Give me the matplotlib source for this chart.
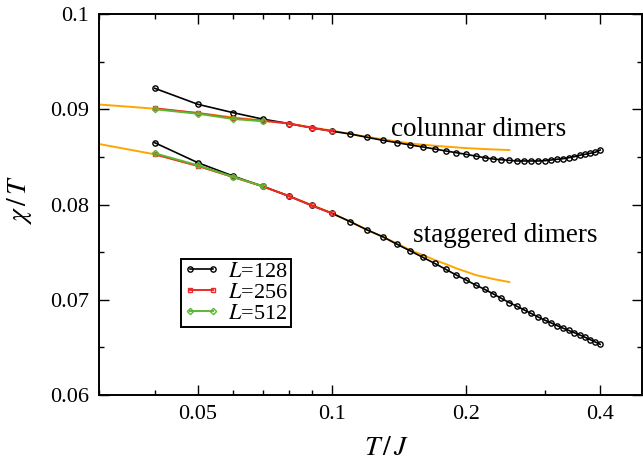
import matplotlib
matplotlib.use("Agg")
import matplotlib.pyplot as plt
from matplotlib.ticker import FixedLocator, NullFormatter, MultipleLocator

plt.rcParams['font.family'] = ['Liberation Serif', 'DejaVu Serif']
plt.rcParams['mathtext.fontset'] = 'stix'

# ---- data ----
T128 = [0.04, 0.05, 0.06, 0.07, 0.08, 0.09, 0.10, 0.11, 0.12, 0.13, 0.14, 0.15,
        0.16, 0.17, 0.18, 0.19, 0.20, 0.21, 0.22, 0.23, 0.24, 0.25, 0.26, 0.27,
        0.28, 0.29, 0.30, 0.31, 0.32, 0.33, 0.34, 0.35, 0.36, 0.37, 0.38, 0.39, 0.40]
col128 = [0.0922, 0.09052, 0.08964, 0.08896, 0.08850, 0.08805, 0.08770, 0.08740,
          0.08705, 0.08674, 0.08649, 0.08625, 0.08604, 0.08583, 0.08562, 0.08544,
          0.08527, 0.08509, 0.08491, 0.08478, 0.08470, 0.08464, 0.08457, 0.08457,
          0.08457, 0.08457, 0.08460, 0.08467, 0.08475, 0.08481, 0.08491, 0.08502,
          0.08517, 0.08527, 0.08538, 0.08548, 0.08572]
stg128 = [0.08649, 0.08439, 0.08299, 0.08190, 0.08089, 0.07990, 0.07907, 0.07819,
          0.07732, 0.07662, 0.07582, 0.07512, 0.07445, 0.07382, 0.07320, 0.07260,
          0.07207, 0.07155, 0.07110, 0.07062, 0.07015, 0.06970, 0.06932, 0.06893,
          0.06856, 0.06820, 0.06787, 0.06758, 0.06729, 0.06702, 0.06678, 0.06654,
          0.06630, 0.06606, 0.06581, 0.06556, 0.06532]

T256 = [0.04, 0.05, 0.06, 0.07, 0.08, 0.09, 0.10]
col256 = [0.0901, 0.0896, 0.08905, 0.08880, 0.08850, 0.08805, 0.08770]
stg256 = [0.08527, 0.08405, 0.08288, 0.08190, 0.08089, 0.07990, 0.07907]

T512 = [0.04, 0.05, 0.06, 0.07]
col512 = [0.0900, 0.08953, 0.08898, 0.08874]
stg512 = [0.08538, 0.08412, 0.08290, 0.08192]

Tcol_fit = [0.03, 0.04, 0.05, 0.06, 0.07, 0.08, 0.10, 0.12, 0.15, 0.173, 0.20, 0.225, 0.25]
col_fit = [0.0905, 0.09006, 0.0896, 0.08915, 0.0888, 0.0885, 0.08775, 0.0871,
           0.0864, 0.08614, 0.08592, 0.0858, 0.08572]
Tstg_fit = [0.03, 0.04, 0.05, 0.06, 0.07, 0.08, 0.10, 0.12, 0.14, 0.15, 0.16, 0.17,
            0.18, 0.19, 0.20, 0.21, 0.23, 0.25]
stg_fit = [0.08635, 0.08527, 0.08405, 0.0829, 0.0819, 0.0809, 0.0791, 0.07735,
           0.0759, 0.0752, 0.0747, 0.07417, 0.07375, 0.0733, 0.07295, 0.0726,
           0.07218, 0.07186]

xticks = [0.05, 0.1, 0.2, 0.4]
xtick_labels = ['0.05', '0.1', '0.2', '0.4']
xminor = [0.03, 0.04, 0.06, 0.07, 0.08, 0.09, 0.3]
yticks = [0.06, 0.07, 0.08, 0.09, 0.1]
ytick_labels = ['0.06', '0.07', '0.08', '0.09', '0.1']

BLACK = 'black'
RED = '#ee2a2a'
GREEN = '#5cb832'
ORANGE = '#ffa500'

fig = plt.figure(figsize=(6.43, 4.61), dpi=100)
ax = fig.add_axes([99/643, 1 - 395/461, 543/643, 381/461])

ax.plot(Tcol_fit, col_fit, color=ORANGE, lw=1.4, zorder=2)
ax.plot(Tstg_fit, stg_fit, color=ORANGE, lw=1.4, zorder=2)

mk = dict(mfc='none', mew=1.0)
ax.plot(T128, col128, color=BLACK, lw=1.2, marker='o', ms=3.8, label='$L$=128', zorder=3, **mk)
ax.plot(T128, stg128, color=BLACK, lw=1.2, marker='o', ms=3.8, zorder=3, **mk)
ax.plot(T256, col256, color=RED, lw=1.4, marker='s', ms=3.4, label='$L$=256', zorder=4, **mk)
ax.plot(T256, stg256, color=RED, lw=1.4, marker='s', ms=3.4, zorder=4, **mk)
ax.plot(T512, col512, color=GREEN, lw=1.4, marker='D', ms=3.2, label='$L$=512', zorder=5, **mk)
ax.plot(T512, stg512, color=GREEN, lw=1.4, marker='D', ms=3.2, zorder=5, **mk)

ax.set_xscale('log')
ax.set_xlim(0.03, 0.4965)
ax.set_ylim(0.06, 0.1)

ax.xaxis.set_major_locator(FixedLocator(xticks))
ax.set_xticklabels(xtick_labels)
ax.xaxis.set_minor_locator(FixedLocator(xminor))
ax.xaxis.set_minor_formatter(NullFormatter())
ax.set_yticks(yticks)
ax.set_yticklabels(ytick_labels)
ax.yaxis.set_minor_locator(MultipleLocator(0.005))

ax.tick_params(which='both', direction='in', top=True, right=True, labelsize=16)
ax.tick_params(which='major', length=7, width=1.0, pad=7)
ax.tick_params(which='minor', length=3.5, width=1.0)
for s in ax.spines.values():
    s.set_linewidth(1.4)

ax.set_xlabel('$T\\,/\\,J$', fontsize=20)
ax.xaxis.set_label_coords((387 - 99) / 543, (395 - 436) / 381)
ax.set_ylabel('$\\chi\\,/\\,T$', fontsize=20)
ax.yaxis.set_label_coords((34 - 99) / 543, (395 - 200) / 381)

ax.text(0.213, 0.08719, 'colunnar dimers', fontsize=19.5, ha='center', va='baseline')
ax.text(0.245, 0.07606, 'staggered dimers', fontsize=19.5, ha='center', va='baseline')

leg = ax.legend(loc='upper left', bbox_to_anchor=(0.151, 0.357), borderaxespad=0,
                fontsize=16, numpoints=2, handlelength=1.6, handletextpad=0.4,
                labelspacing=0.02, borderpad=0.12, fancybox=False, framealpha=1,
                edgecolor='black')
leg.get_frame().set_linewidth(1.4)

fig.savefig('out.png', dpi=100)
